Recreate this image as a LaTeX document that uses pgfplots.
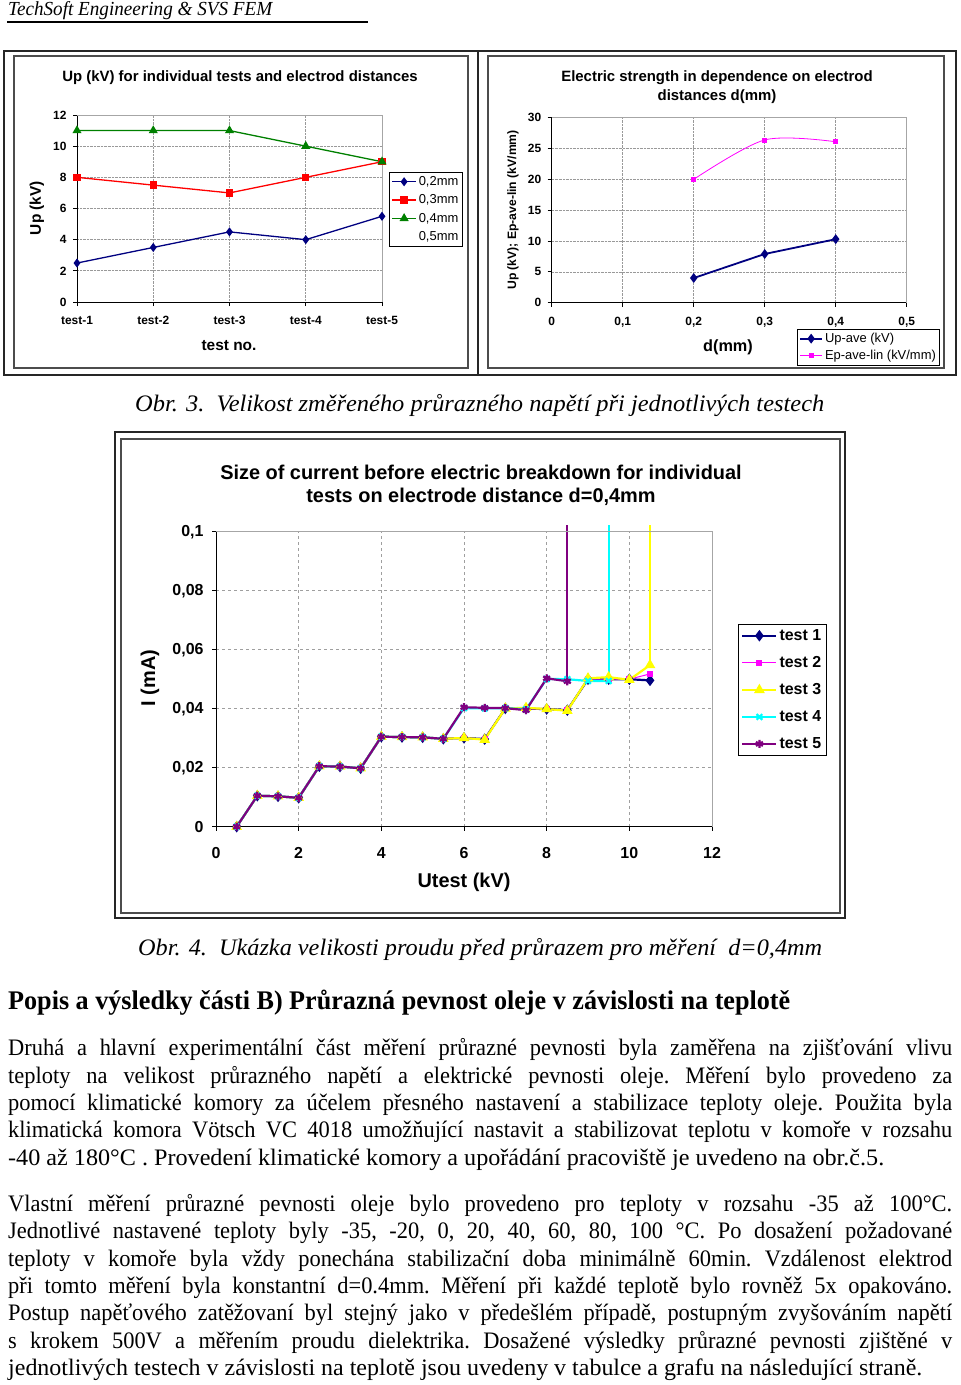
\documentclass[border=0pt]{standalone}
\usepackage{pgfplots}
\pgfplotsset{compat=1.18}
\usepackage{fontspec}
\usepackage{graphicx}
\setmainfont{Liberation Serif}
\newfontfamily\tnr{Liberation Serif}
\newfontfamily\arial{Liberation Sans}
\definecolor{xnavy}{RGB}{0,0,128}
\definecolor{xpurple}{RGB}{128,0,128}
\definecolor{xgreen}{RGB}{0,128,0}
\definecolor{xred}{RGB}{255,0,0}
\definecolor{xmag}{RGB}{255,0,255}
\definecolor{xyellow}{RGB}{255,255,0}
\definecolor{xcyan}{RGB}{0,255,255}
\newcommand\af[1]{\arial\bfseries\fontsize{#1}{#1}\selectfont}
\newcommand\body{\tnr\frenchspacing\fontsize{23.7}{27}\selectfont}
\newcommand\jline[1]{\scalebox{0.95}[1]{\makebox[993.7bp][s]{\body #1}}}
\newcommand\fitline[2]{\resizebox{#1}{\height}{#2}}
\pgfplotsset{
  excelaxis/.style={
    scale only axis, axis lines=left,
    axis line style={-, black, line width=0.9bp},
    tick align=outside, major tick length=4bp,
    tick style={black, line width=0.9bp},
    clip=false, grid=major,
    /pgf/number format/assume math mode=true,
    legend cell align=left,
  },
}
\begin{document}
\begin{tikzpicture}[x=1bp,y=-1bp]
\path[use as bounding box] (0,0) rectangle (960,1385);

% ---------- header ----------
\node[anchor=base west, inner sep=0] at (8,16) {\fitline{264bp}{\tnr\itshape\fontsize{20}{20}\selectfont TechSoft Engineering \& SVS FEM}};
\draw[line width=2bp] (7,22) -- (368,22);

% ---------- frames ----------
\draw[line width=1.5bp, black!85] (4,51) rectangle (956,375);
\draw[line width=1.5bp, black!85] (478,51) -- (478,375);
\draw[line width=2bp, black!70] (13.5,56) rectangle (468,368);
\draw[line width=2bp, black!70] (488,56) rectangle (944,368);
\draw[line width=1.5bp, black!85] (115,432) rectangle (845,918);
\draw[line width=2bp, black!70] (121,439) rectangle (840,913);

% ---------- chart 1 ----------
\begin{axis}[excelaxis,
  at={(77bp,-302bp)}, anchor=south west, width=305bp, height=187bp,
  xmin=1, xmax=5, ymin=0, ymax=12,
  xtick={1,2,3,4,5}, xticklabels={test-1,test-2,test-3,test-4,test-5},
  ytick={0,2,4,6,8,10,12},
  ticklabel style={font=\af{12}},
  xticklabel style={yshift=-7bp},
  yticklabel style={xshift=-3bp},
  major grid style={densely dotted, gray!80, line width=0.7bp},
  legend image code/.code={\draw[mark repeat=2,mark phase=2] plot coordinates {(0bp,0bp) (12bp,0bp) (24bp,0bp)};},
  legend style={at={(1.023,0.695)}, anchor=north west, draw=black, line width=0.9bp,
    font=\arial\fontsize{13}{13}\selectfont, row sep=3.8bp, inner sep=2bp},
]
\addplot[xnavy, line width=1.3bp, mark=diamond*, mark size=3.5bp] coordinates {(1,2.5)(2,3.5)(3,4.5)(4,4)(5,5.5)};
\addlegendentry{0,2mm}
\addplot[xred, line width=1.3bp, mark=square*, mark size=3bp] coordinates {(1,8)(2,7.5)(3,7)(4,8)(5,9)};
\addlegendentry{0,3mm}
\addplot[xgreen, line width=1.3bp, mark=triangle*, mark size=4bp] coordinates {(1,11)(2,11)(3,11)(4,10)(5,9)};
\addlegendentry{0,4mm}
\addlegendimage{empty legend}
\addlegendentry{0,5mm}
\draw[gray!70, line width=0.8bp] (rel axis cs:0,1) -- (rel axis cs:1,1) -- (rel axis cs:1,0);
\end{axis}
\node[font=\af{15}] at (240,78) {Up (kV) for individual tests and electrod distances};
\node[rotate=90, font=\af{15.5}] at (37,208) {Up (kV)};
\node[font=\af{15.5}] at (229,346) {test no.};

% ---------- chart 2 ----------
\begin{axis}[excelaxis,
  at={(551.7bp,-302.7bp)}, anchor=south west, width=355bp, height=185bp,
  xmin=0, xmax=0.5, ymin=0, ymax=30,
  xtick={0,0.1,0.2,0.3,0.4,0.5}, xticklabels={0,{0,1},{0,2},{0,3},{0,4},{0,5}},
  ytick={0,5,10,15,20,25,30},
  ticklabel style={font=\af{12}},
  xticklabel style={yshift=-7bp},
  yticklabel style={xshift=-3bp},
  major grid style={densely dotted, gray!80, line width=0.7bp},
  legend image code/.code={\draw[mark repeat=2,mark phase=2] plot coordinates {(0bp,0bp) (11bp,0bp) (22bp,0bp)};},
  legend style={at={(0.691,-0.142)}, anchor=north west, draw=black, line width=0.9bp,
    font=\arial\fontsize{13}{13}\selectfont, row sep=2.3bp, inner sep=1.8bp},
]
\addplot[xnavy, line width=1.8bp, mark=diamond*, mark size=3.5bp] coordinates {(0.2,4)(0.3,7.9)(0.4,10.3)};
\addlegendentry{Up-ave (kV)}
\addplot[xmag, line width=0.8bp, mark=square*, mark size=2bp, smooth] coordinates {(0.2,20)(0.3,26.4)(0.4,26.1)};
\addlegendentry{Ep-ave-lin (kV/mm)}
\draw[gray!70, line width=0.8bp] (rel axis cs:0,1) -- (rel axis cs:1,1) -- (rel axis cs:1,0);
\end{axis}
\node[font=\af{15}] at (717,78) {Electric strength in dependence on electrod};
\node[font=\af{15}] at (717,97) {distances d(mm)};
\node[rotate=90, font=\af{12.2}] at (513,210) {Up (kV); Ep-ave-lin (kV/mm)};
\node[font=\af{16.3}] at (728,347) {d(mm)};

% ---------- chart 3 ----------
\begin{axis}[excelaxis,
  at={(216bp,-826.7bp)}, anchor=south west, width=496bp, height=295bp,
  xmin=0, xmax=12, ymin=0, ymax=0.1,
  xtick={0,2,4,6,8,10,12}, xticklabels={0,2,4,6,8,10,12},
  ytick={0,0.02,0.04,0.06,0.08,0.1}, yticklabels={0,{0,02},{0,04},{0,06},{0,08},{0,1}},
  ticklabel style={font=\af{16}},
  xticklabel style={yshift=-13bp},
  yticklabel style={xshift=-5bp},
  major grid style={dash pattern=on 3bp off 3bp, gray!75, line width=0.8bp},
  legend image code/.code={\draw[mark repeat=2,mark phase=2] plot coordinates {(0bp,0bp) (17bp,0bp) (34bp,0bp)};},
  legend style={at={(1.052,0.687)}, anchor=north west, draw=black, line width=1bp,
    font=\af{16}, row sep=10.5bp, inner sep=3bp},
]
\addplot[xnavy, line width=2.2bp, mark=diamond*, mark size=4bp] coordinates {
(0.5,0)(1,0.0105)(1.5,0.0103)(2,0.0098)(2.5,0.0205)(3,0.0204)(3.5,0.0198)(4,0.0305)(4.5,0.0304)(5,0.0303)(5.5,0.0298)
(6,0.0301)(6.5,0.0297)(7,0.0401)(7.5,0.0400)(8,0.0399)(8.5,0.0395)(9,0.0500)(9.5,0.0500)(10,0.0500)(10.5,0.0496)};
\addlegendentry{test 1}
\addplot[xmag, line width=1bp, mark=square*, mark size=2.5bp] coordinates {
(0.5,0)(1,0.0105)(1.5,0.0103)(2,0.0098)(2.5,0.0205)(3,0.0204)(3.5,0.0198)(4,0.0305)(4.5,0.0304)(5,0.0303)(5.5,0.0298)
(6,0.0301)(6.5,0.0297)(7,0.0401)(7.5,0.0400)(8,0.0399)(8.5,0.0395)(9,0.0500)(9.5,0.0500)(10,0.0500)(10.5,0.0518)};
\addlegendentry{test 2}
\addplot[xyellow, line width=2.2bp, mark=triangle*, mark size=4bp] coordinates {
(0.5,0)(1,0.0105)(1.5,0.0103)(2,0.0098)(2.5,0.0205)(3,0.0204)(3.5,0.0198)(4,0.0305)(4.5,0.0304)(5,0.0303)(5.5,0.0298)
(6,0.0301)(6.5,0.0295)(7,0.0401)(7.5,0.0403)(8,0.0399)(8.5,0.0393)(9,0.0503)(9.5,0.0507)(10,0.0498)(10.5,0.0548)};
\addlegendentry{test 3}
\addplot[xcyan, line width=2.2bp, mark=x, mark size=4bp] coordinates {
(0.5,0)(1,0.0105)(1.5,0.0103)(2,0.0098)(2.5,0.0205)(3,0.0204)(3.5,0.0198)(4,0.0305)(4.5,0.0304)(5,0.0303)(5.5,0.0298)
(6,0.0402)(6.5,0.0401)(7,0.0402)(7.5,0.0398)(8,0.0501)(8.5,0.0500)(9,0.0494)(9.5,0.0494)};
\addlegendentry{test 4}
\addplot[xpurple, line width=2.2bp, mark=asterisk, mark size=4bp] coordinates {
(0.5,0)(1,0.0105)(1.5,0.0103)(2,0.0098)(2.5,0.0205)(3,0.0204)(3.5,0.0198)(4,0.0305)(4.5,0.0304)(5,0.0303)(5.5,0.0298)
(6,0.0405)(6.5,0.0403)(7,0.0402)(7.5,0.0395)(8,0.0503)(8.5,0.0493)};
\addlegendentry{test 5}
\addplot[xyellow, line width=2.2bp, forget plot] coordinates {(10.5,0.0548)(10.5,0.1024)};
\addplot[xcyan, line width=2.2bp, forget plot] coordinates {(9.5,0.0494)(9.5,0.1024)};
\addplot[xpurple, line width=2.2bp, forget plot] coordinates {(8.5,0.0493)(8.5,0.1024)};
\draw[gray!70, line width=0.8bp] (rel axis cs:0,1) -- (rel axis cs:1,1) -- (rel axis cs:1,0);
\end{axis}
\node[font=\af{20}] at (481,472) {Size of current before electric breakdown for individual};
\node[font=\af{20}] at (481,497) {tests on electrode distance d=0,4mm};
\node[rotate=90, font=\af{20}] at (150,678) {I (mA)};
\node[font=\af{20}] at (464,882) {Utest (kV)};

% ---------- captions ----------
\node[anchor=base west, inner sep=0] at (135,411) {\fitline{689bp}{\tnr\itshape\fontsize{23.7}{24}\selectfont Obr. 3.\ \ Velikost změřeného průrazného napětí při jednotlivých testech}};
\node[anchor=base west, inner sep=0] at (138,955) {\fitline{684bp}{\tnr\itshape\fontsize{23.7}{24}\selectfont Obr. 4.\ \ Ukázka velikosti proudu před průrazem pro měření\ \ d=0,4mm}};

% ---------- heading ----------
\node[anchor=base west, inner sep=0] at (8,1009) {\fitline{782bp}{\tnr\bfseries\fontsize{27}{27}\selectfont Popis a výsledky části B) Průrazná pevnost oleje v závislosti na teplotě}};

% ---------- paragraph 1 ----------
\node[anchor=base west, inner sep=0] at (8,1055) {\jline{Druhá a hlavní experimentální část měření průrazné pevnosti byla zaměřena na zjišťování vlivu}};
\node[anchor=base west, inner sep=0] at (8,1083) {\jline{teploty na velikost průrazného napětí a elektrické pevnosti oleje. Měření bylo provedeno za}};
\node[anchor=base west, inner sep=0] at (8,1110) {\jline{pomocí klimatické komory za účelem přesného nastavení a stabilizace teploty oleje. Použita byla}};
\node[anchor=base west, inner sep=0] at (8,1137) {\jline{klimatická komora Vötsch VC 4018 umožňující nastavit a stabilizovat teplotu v komoře v rozsahu}};
\node[anchor=base west, inner sep=0] at (8,1165) {\fitline{876bp}{\body -40 až 180°C . Provedení klimatické komory a upořádání pracoviště je uvedeno na obr.č.5.}};

% ---------- paragraph 2 ----------
\node[anchor=base west, inner sep=0] at (8,1211) {\jline{Vlastní měření průrazné pevnosti oleje bylo provedeno pro teploty v rozsahu -35 až 100°C.}};
\node[anchor=base west, inner sep=0] at (8,1238) {\jline{Jednotlivé nastavené teploty byly -35, -20, 0, 20, 40, 60, 80, 100 °C. Po dosažení požadované}};
\node[anchor=base west, inner sep=0] at (8,1266) {\jline{teploty v komoře byla vždy ponechána stabilizační doba minimálně 60min. Vzdálenost elektrod}};
\node[anchor=base west, inner sep=0] at (8,1293) {\jline{při tomto měření byla konstantní d=0.4mm. Měření při každé teplotě bylo rovněž 5x opakováno.}};
\node[anchor=base west, inner sep=0] at (8,1320) {\jline{Postup napěťového zatěžovaní byl stejný jako v předešlém případě, postupným zvyšováním napětí}};
\node[anchor=base west, inner sep=0] at (8,1348) {\jline{s krokem 500V a měřením proudu dielektrika. Dosažené výsledky průrazné pevnosti zjištěné v}};
\node[anchor=base west, inner sep=0] at (8,1375) {\fitline{914bp}{\body jednotlivých testech v závislosti na teplotě jsou uvedeny v tabulce a grafu na následující straně.}};
\end{tikzpicture}
\end{document}
